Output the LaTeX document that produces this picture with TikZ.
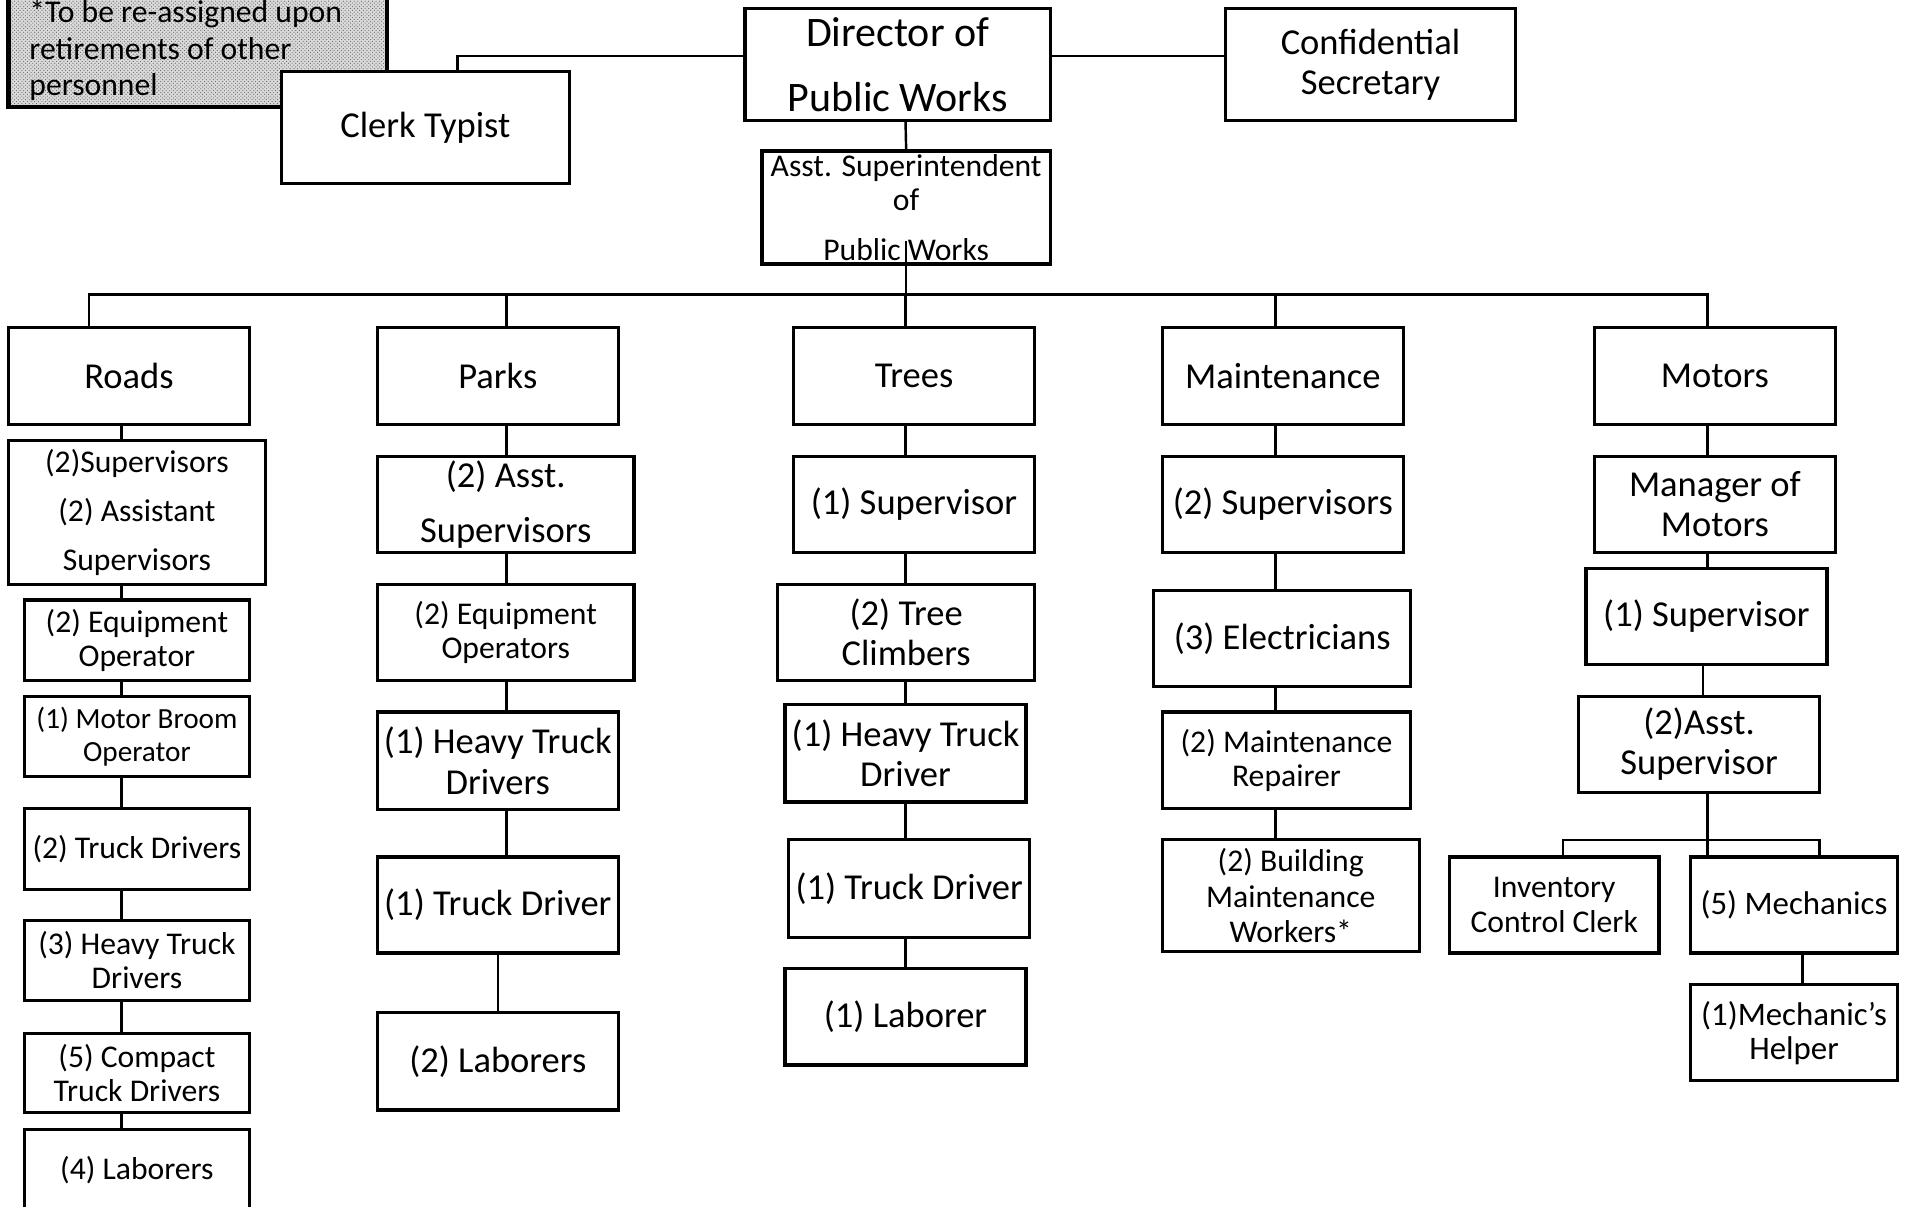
\documentclass[tikz,border=0pt]{standalone}
\usepackage{fontspec}
\setmainfont{Carlito}
\usetikzlibrary{patterns}
\begin{document}
\begin{tikzpicture}[x=1pt,y=-1pt,line join=miter,
  post/.style={draw,line width=2.7pt,align=center,inner sep=0pt,fill=white},
  big/.style={font=\fontsize{30}{33}\selectfont},
  small/.style={font=\fontsize{26}{28}\selectfont},
  link/.style={line width=2pt}]
  \useasboundingbox (0,0) rectangle (1566,991);
  % top of the chart
  \node (note) [draw,line width=3.5pt,preaction={fill=black!14},pattern=crosshatch dots,pattern color=black!60,minimum width=311,minimum height=98] at (162.5,39) {};
  \node (notetxt) [anchor=west,align=left,inner sep=0pt,font=\fontsize{26}{30}\selectfont] at (24,41.5) {*To be re-assigned upon\\retirements of other\\personnel};
  \node (clerk) [post,big,minimum width=237,minimum height=92] at (349.5,105) {Clerk Typist};
  \node (dir) [post,font=\fontsize{34.5}{53}\selectfont,minimum width=251,minimum height=92] at (737.5,53) {Director of\\Public Works};
  \node (conf) [post,big,minimum width=238,minimum height=92] at (1126,53) {Confidential\\Secretary};
  \node (asst) [post,small,minimum width=237,minimum height=93] at (744.5,170.5) {Asst. Superintendent\\of\\[13pt]Public Works};
  \draw [link] ([yshift=7]dir.west) -| ([xshift=26.5]clerk.north);
  \draw [link] ([yshift=7]dir.east) -- ([yshift=7]conf.west);
  \draw [link] ([xshift=6.5]dir.south) -- (asst.north);

  % divisions
  \node (roads) [post,big,minimum width=198,minimum height=80] at (106,309) {Roads};
  \node (parks) [post,big,minimum width=198,minimum height=80] at (409,309) {Parks};
  \node (trees) [post,big,minimum width=198,minimum height=80] at (751,309) {Trees};
  \node (maint) [post,big,minimum width=198,minimum height=80] at (1054,309) {Maintenance};
  \node (motors) [post,big,minimum width=198,minimum height=80] at (1409,309) {Motors};
  \coordinate (busL) at (73,242);
  \coordinate (busR) at (1403,242);
  \draw [link] ([yshift=20]asst.south) -- (busL -| asst.south);
  \draw [link] ([xshift=-33]roads.north) -- (busL) -- (busR) -- ([xshift=-6]motors.north);
  \draw [link] ([xshift=7]parks.north) -- ++(0,-27);
  \draw [link] ([xshift=-7]trees.north) -- ++(0,-27);
  \draw [link] ([xshift=-6]maint.north) -- ++(0,-27);

  % roads
  \node (rsup) [post,font=\fontsize{26}{40}\selectfont,minimum width=211,minimum height=118] at (112.5,421) {(2)Supervisors\\(2) Assistant\\Supervisors};
  \node (requip) [post,small,minimum width=185,minimum height=66] at (112.5,526) {(2) Equipment\\Operator};
  \node (rbroom) [post,font=\fontsize{24}{27}\selectfont,minimum width=185,minimum height=66] at (112.5,605) {(1) Motor Broom\\Operator};
  \node (rtruck) [post,small,minimum width=185,minimum height=67] at (112.5,697.5) {(2) Truck Drivers};
  \node (rheavy) [post,small,minimum width=185,minimum height=66] at (112.5,789) {(3) Heavy Truck\\Drivers};
  \node (rcompact) [post,small,minimum width=185,minimum height=65] at (112.5,881.5) {(5) Compact\\Truck Drivers};
  \node (rlab) [post,small,minimum width=185,minimum height=67] at (112.5,961.5) {(4) Laborers};
  \coordinate (rx) at (100,0);
  \foreach \a/\b in {roads/rsup,rsup/requip,requip/rbroom,rbroom/rtruck,rtruck/rheavy,rheavy/rcompact,rcompact/rlab}
    \draw [link] (\a.south -| rx) -- (\b.north -| rx);

  % parks
  \node (passt) [post,font=\fontsize{30}{45}\selectfont,minimum width=211,minimum height=79] at (415.5,414.5) {(2) Asst.\\Supervisors};
  \node (pequip) [post,small,minimum width=211,minimum height=79] at (415.5,519.5) {(2) Equipment\\Operators};
  \node (pheavy) [post,big,minimum width=198,minimum height=80] at (409,625) {(1) Heavy Truck\\Drivers};
  \node (ptruck) [post,big,minimum width=198,minimum height=79] at (409,743.5) {(1) Truck Driver};
  \node (plab) [post,big,minimum width=198,minimum height=80] at (409,872) {(2) Laborers};
  \coordinate (px) at (416,0);
  \foreach \a/\b in {parks/passt,passt/pequip,pequip/pheavy,pheavy/ptruck}
    \draw [link] (\a.south -| px) -- (\b.north -| px);
  \draw [link] (ptruck) -- (plab);

  % trees
  \node (tsup) [post,big,minimum width=198,minimum height=79] at (751,414.5) {(1) Supervisor};
  \node (tclimb) [post,big,minimum width=211,minimum height=79] at (744.5,519.5) {(2) Tree\\Climbers};
  \node (theavy) [post,big,minimum width=198,minimum height=80] at (744,619) {(1) Heavy Truck\\Driver};
  \node (ttruck) [post,big,minimum width=198,minimum height=80] at (747,730) {(1) Truck Driver};
  \node (tlab) [post,big,minimum width=198,minimum height=79] at (744,835.5) {(1) Laborer};
  \coordinate (tx) at (744,0);
  \foreach \a/\b in {trees/tsup,tsup/tclimb,tclimb/theavy,theavy/ttruck,ttruck/tlab}
    \draw [link] (\a.south -| tx) -- (\b.north -| tx);

  % maintenance
  \node (msup) [post,big,minimum width=198,minimum height=79] at (1054,414.5) {(2) Supervisors};
  \node (melec) [post,big,minimum width=211,minimum height=79] at (1053.5,524.5) {(3) Electricians};
  \node (mrep) [post,small,minimum width=204,minimum height=79] at (1057,624.5) {(2) Maintenance\\Repairer};
  \node (mbuild) [post,font=\fontsize{26}{29}\selectfont,minimum width=211,minimum height=92] at (1060.5,736) {(2) Building\\Maintenance\\Workers*};
  \coordinate (mx) at (1048,0);
  \foreach \a/\b in {maint/msup,msup/melec,melec/mrep,mrep/mbuild}
    \draw [link] (\a.south -| mx) -- (\b.north -| mx);

  % motors
  \node (omgr) [post,big,minimum width=198,minimum height=79] at (1409,414.5) {Manager of\\Motors};
  \node (osup) [post,big,minimum width=198,minimum height=79] at (1402,506.5) {(1) Supervisor};
  \node (oasst) [post,big,minimum width=198,minimum height=79] at (1396,611.5) {(2)Asst.\\Supervisor};
  \node (inv) [post,small,minimum width=172,minimum height=79] at (1277,743.5) {Inventory\\Control Clerk};
  \node (mech) [post,font=\fontsize{27}{28}\selectfont,minimum width=170,minimum height=79] at (1474,743.5) {(5) Mechanics};
  \node (help) [post,font=\fontsize{27}{28}\selectfont,minimum width=170,minimum height=79] at (1474,848.5) {(1)Mechanic’s\\Helper};
  \coordinate (ox) at (1403,0);
  \coordinate (obar) at (1403,690);
  \draw [link] (motors.south -| ox) -- (omgr.north -| ox);
  \draw [link] (omgr.south -| ox) -- (osup.north -| ox);
  \draw [link] ([xshift=-3]osup.south) -- ([xshift=3]oasst.north);
  \draw [link] (oasst.south -| obar) -- (obar) -- (obar |- mech.north);
  \draw [link] ([xshift=7]inv.north) -- ([xshift=7]inv.north |- obar) -- ([xshift=21]mech.north |- obar) -- ([xshift=21]mech.north);
  \draw [link] ([xshift=7]mech.south) -- ([xshift=7]help.north);
\end{tikzpicture}
\end{document}
